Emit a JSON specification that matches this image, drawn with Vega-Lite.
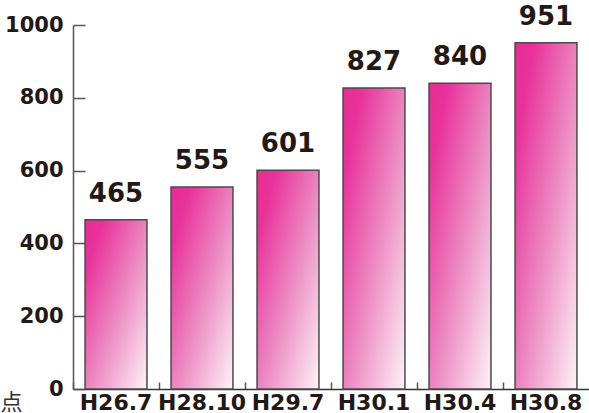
{
  "$schema": "https://vega.github.io/schema/vega-lite/v6.json",
  "width": 516,
  "height": 364,
  "autosize": {"type": "none"},
  "padding": {"left": 73, "top": 25, "right": 0, "bottom": 24},
  "background": "white",
  "config": {"view": {"stroke": null}},
  "data": {"values": [
    {"period": "H26.7", "value": 465},
    {"period": "H28.10", "value": 555},
    {"period": "H29.7", "value": 601},
    {"period": "H30.1", "value": 827},
    {"period": "H30.4", "value": 840},
    {"period": "H30.8", "value": 951}
  ]},
  "encoding": {
    "x": {
      "field": "period", "type": "nominal", "sort": null,
      "scale": {"paddingInner": 0, "paddingOuter": 0},
      "axis": {
        "title": null, "labelAngle": 0, "bandPosition": 0,
        "tickSize": -7, "tickColor": "#555", "tickWidth": 1.5,
        "domainColor": "#333", "domainWidth": 1.5,
        "labelFont": "DejaVu Sans", "labelFontWeight": "bold", "labelFontSize": 22,
        "labelColor": "#231815", "labelPadding": 10, "labelBaseline": "top",
        "labelOverlap": false
      }
    },
    "y": {
      "field": "value", "type": "quantitative",
      "scale": {"domain": [0, 1000]},
      "axis": {
        "values": [0, 200, 400, 600, 800, 1000], "format": "d",
        "grid": false, "tickSize": -12, "tickColor": "#555", "tickWidth": 1.5,
        "domainColor": "#555", "domainWidth": 1.5,
        "labelFont": "DejaVu Sans", "labelFontWeight": "bold", "labelFontSize": 21,
        "labelColor": "#231815", "labelPadding": 22,
        "title": "点", "titleAngle": 0, "titleAlign": "left", "titleBaseline": "top",
        "titleX": -73, "titleY": 367, "titleFont": "Noto Sans CJK JP",
        "titleFontWeight": "normal", "titleFontSize": 22, "titleColor": "#333"
      }
    }
  },
  "layer": [
    {
      "mark": {
        "type": "bar", "width": {"band": 0.72},
        "stroke": "#4a4a4a", "strokeWidth": 1.5,
        "color": {
          "gradient": "linear", "x1": 0, "y1": 0, "x2": 1, "y2": 1,
          "stops": [
            {"offset": 0, "color": "#E62E92"},
            {"offset": 0.15, "color": "#E8319A"},
            {"offset": 0.55, "color": "#EC8CC3"},
            {"offset": 1, "color": "#FDF3F8"}
          ]
        }
      }
    },
    {
      "mark": {
        "type": "text", "baseline": "alphabetic", "dy": -18,
        "font": "DejaVu Sans", "fontWeight": "bold", "fontSize": 26, "color": "#231815"
      },
      "encoding": {"text": {"field": "value", "type": "quantitative"}}
    }
  ]
}
